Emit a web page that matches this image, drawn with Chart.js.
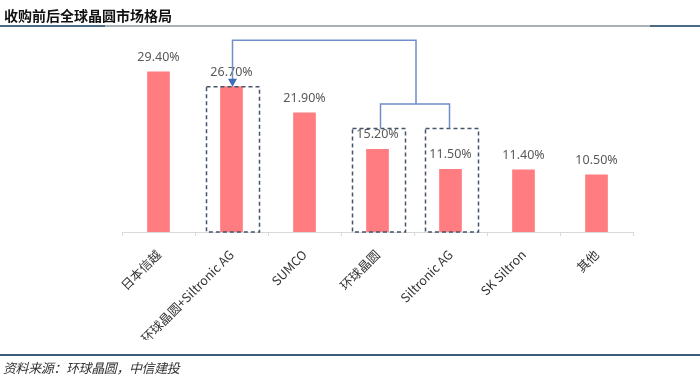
<!DOCTYPE html>
<html>
<head>
<meta charset="utf-8">
<script src="https://cdn.jsdelivr.net/npm/chart.js@4.4.1/dist/chart.umd.min.js"></script>
<style>
    html, body { margin: 0; padding: 0; background: #fff; }
    #wrap { position: relative; width: 700px; height: 377px; overflow: hidden; }
    #title {
        position: absolute; left: 4px; top: 5px;
        font: bold 14px "Noto Sans CJK SC", sans-serif; color: #111;
    }
    #titleLine {
        position: absolute; left: 0; top: 25px; width: 700px; height: 2px;
        background: linear-gradient(to right, #4a6a86 0, #4a6a86 105px, #a9b0b4 105px, #a9b0b4 650px, #4a6a86 650px);
    }
    #footLine {
        position: absolute; left: 0; top: 354px; width: 700px; height: 2px; background: #3d5a7a;
    }
    #source {
        position: absolute; left: 3px; top: 358px;
        font: italic 13px "Noto Sans CJK SC", serif; color: #333; letter-spacing: -0.4px;
    }
    #chartBox { position: absolute; left: 0; top: 0; width: 700px; height: 377px; }
</style>
</head>
<body>
<div id="wrap">
    <div id="chartBox"><canvas id="shareChart"></canvas></div>
    <div id="title">收购前后全球晶圆市场格局</div>
    <div id="titleLine"></div>
    <div id="footLine"></div>
    <div id="source">资料来源：环球晶圆，中信建投</div>
</div>
<script>
    // Data
    const categories = ['日本信越', '环球晶圆+Siltronic AG', 'SUMCO', '环球晶圆', 'Siltronic AG', 'SK Siltron', '其他'];
    const shares = [29.4, 26.7, 21.9, 15.2, 11.5, 11.4, 10.5];

    // Merge annotation: the two parts and the merged result
    const mergedIndex = 1;
    const partIndexes = [3, 4];

    // Value labels above each bar
    const valueLabels = {
        id: 'valueLabels',
        afterDatasetsDraw(chart) {
            const ctx = chart.ctx;
            const meta = chart.getDatasetMeta(0);
            ctx.save();
            ctx.font = '12.5px "Noto Sans", sans-serif';
            ctx.fillStyle = '#595959';
            ctx.textAlign = 'center';
            ctx.textBaseline = 'middle';
            meta.data.forEach((bar, i) => {
                ctx.fillText(shares[i].toFixed(2) + '%', bar.x, bar.y - 14.5);
            });
            ctx.restore();
        }
    };

    // Dashed boxes and the connector with arrow
    const mergeNotes = {
        id: 'mergeNotes',
        afterDatasetsDraw(chart) {
            const ctx = chart.ctx;
            const x = chart.scales.x;
            const y = chart.scales.y;
            const base = y.getPixelForValue(0);
            const half = 26.5;

            ctx.save();
            ctx.strokeStyle = '#44546a';
            ctx.lineWidth = 1.5;
            ctx.setLineDash([4, 3]);
            const boxTop = { [mergedIndex]: y.getPixelForValue(shares[mergedIndex]) };
            partIndexes.forEach(i => { boxTop[i] = y.getPixelForValue(19); });
            Object.keys(boxTop).forEach(k => {
                const cx = x.getPixelForValue(Number(k)) + 1.5;
                ctx.strokeRect(cx - half, boxTop[k], half * 2, base - boxTop[k]);
            });

            // connector lines
            ctx.setLineDash([]);
            ctx.strokeStyle = '#6f8fc8';
            ctx.lineWidth = 1.5;
            const xa = x.getPixelForValue(partIndexes[0]) + 3;
            const xb = x.getPixelForValue(partIndexes[1]) - 1;
            const yParts = boxTop[partIndexes[0]];
            const yJoin = y.getPixelForValue(23.5);
            const yTop = y.getPixelForValue(35.2);
            const xm = (xa + xb) / 2 + 1;
            const xt = x.getPixelForValue(mergedIndex) + 1;
            const yTip = boxTop[mergedIndex];

            ctx.beginPath();
            ctx.moveTo(xa, yParts);
            ctx.lineTo(xa, yJoin);
            ctx.lineTo(xb, yJoin);
            ctx.lineTo(xb, yParts);
            ctx.moveTo(xm, yJoin);
            ctx.lineTo(xm, yTop);
            ctx.lineTo(xt, yTop);
            ctx.lineTo(xt, yTip - 6);
            ctx.stroke();

            // arrow head
            ctx.fillStyle = '#3f6db6';
            ctx.beginPath();
            ctx.moveTo(xt, yTip);
            ctx.lineTo(xt - 4.5, yTip - 8);
            ctx.lineTo(xt + 4.5, yTip - 8);
            ctx.closePath();
            ctx.fill();
            ctx.restore();
        }
    };

    const ctx = document.getElementById('shareChart').getContext('2d');
    new Chart(ctx, {
        type: 'bar',
        data: {
            labels: categories,
            datasets: [{
                data: shares,
                backgroundColor: '#ff7c80',
                borderWidth: 0,
                barThickness: 22
            }]
        },
        options: {
            responsive: true,
            maintainAspectRatio: false,
            animation: false,
            layout: {
                padding: { left: 122, right: 67, top: 36, bottom: 37 }
            },
            plugins: {
                legend: { display: false },
                tooltip: { enabled: false }
            },
            scales: {
                y: {
                    display: false,
                    min: 0,
                    max: 36
                },
                x: {
                    afterFit: function (scale) {
                        scale.height = 108;
                    },
                    border: { color: '#d9d9d9', width: 1 },
                    grid: {
                        display: true,
                        offset: true,
                        drawOnChartArea: false,
                        drawTicks: true,
                        tickLength: 4,
                        color: '#d9d9d9'
                    },
                    ticks: {
                        minRotation: 45,
                        maxRotation: 45,
                        color: '#333',
                        padding: 11,
                        font: { family: '"Noto Sans CJK SC", sans-serif', size: 12.5 }
                    }
                }
            }
        },
        plugins: [valueLabels, mergeNotes]
    });
</script>
</body>
</html>
